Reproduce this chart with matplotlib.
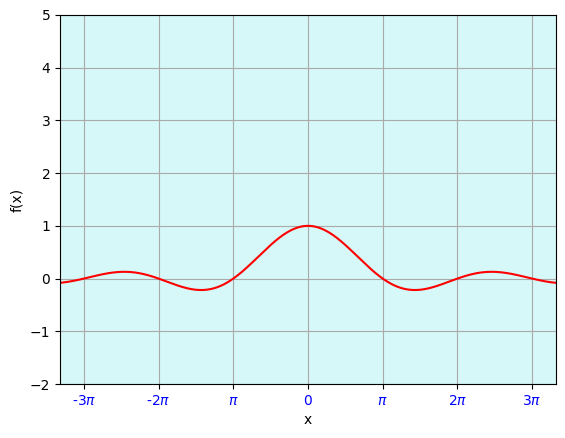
import numpy as np
import matplotlib
matplotlib.use("Agg")
import matplotlib.pyplot as plt

x_start, x_end = -3.5 * np.pi, 3.5 * np.pi
tick_positions = [-3 * np.pi, -2 * np.pi, -np.pi, 0, np.pi, 2 * np.pi, 3 * np.pi]
tick_labels = [r'-3$\pi$', r'-2$\pi$', r'$\pi$', '0', r'$\pi$', r'2$\pi$', r'3$\pi$']
y_limits = (-2, 5)

x = np.linspace(x_start, x_end, 1000)
y = np.sinc(x / np.pi)

fig = plt.figure(figsize=(5.65, 4.38), dpi=100)
ax = fig.add_axes([60 / 565, 1 - 384 / 438, (556 - 60) / 565, (384 - 15) / 438])
ax.set_facecolor('#d6f8f8')
ax.plot(x, y, color='red')
ax.set_xlim(-3.32 * np.pi, 3.32 * np.pi)
ax.set_ylim(*y_limits)
ax.set_xticks(tick_positions)
ax.set_xticklabels(tick_labels, color='blue')
ax.set_xlabel('x')
ax.set_ylabel('f(x)')
ax.grid(True, color='#aaaaaa')
fig.savefig('out.png', dpi=100)
